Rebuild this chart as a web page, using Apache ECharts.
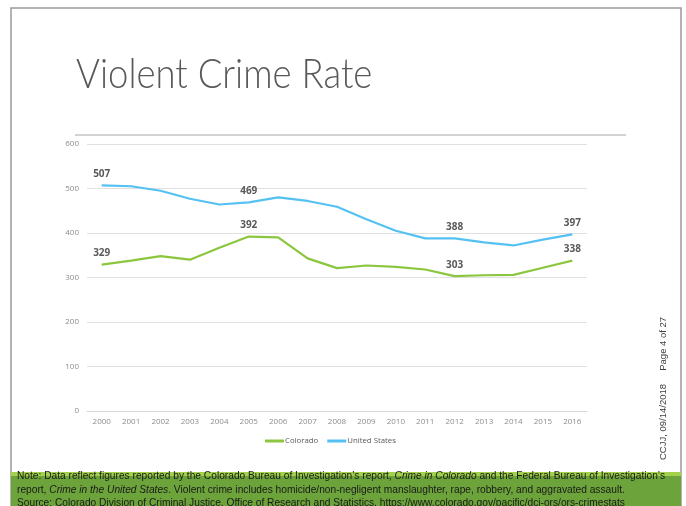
<!DOCTYPE html>
<html><head><meta charset="utf-8">
<script src="https://cdn.jsdelivr.net/npm/echarts@6/dist/echarts.min.js"></script>
<style>html,body{margin:0;padding:0;background:#fff}#c{width:686px;height:506px}</style>
</head><body><div id="c"></div>
<script>
const years = ['2000','2001','2002','2003','2004','2005','2006','2007','2008','2009','2010','2011','2012','2013','2014','2015','2016'];
const colorado = [329,338,348,340,367,392,390,343,321,327,324,318,303,305,306,322,338];
const unitedStates = [507,505,495,477,464,469,480,472,459,431,405,388,388,379,372,385,397];
const labeledYears = ['2000','2005','2012','2016'];
const yTicks = [0,100,200,300,400,500,600];

function withLabels(values){
  return values.map((v,i) => ({value:v, label:{show: labeledYears.includes(years[i])}}));
}

const chart = echarts.init(document.getElementById('c'), null, {renderer:'canvas'});
const lbl = {show:false, position:'top', distance:6, fontSize:10, fontWeight:'bold', color:'#595959', fontFamily:'Open Sans'};
chart.setOption({
  animation:false,
  grid:{left:87, right:99, top:144, bottom:95},
  xAxis:{type:'category', data:years, boundaryGap:true,
    axisLine:{lineStyle:{color:'#d9d9d9'}}, axisTick:{show:false},
    axisLabel:{fontSize:8, color:'#8c8c8c', fontFamily:'Open Sans', margin:7}},
  yAxis:{type:'value', min:yTicks[0], max:yTicks[yTicks.length-1], interval:100,
    axisLine:{show:false}, axisTick:{show:false},
    axisLabel:{fontSize:8, color:'#8c8c8c', fontFamily:'Open Sans', margin:8},
    splitLine:{lineStyle:{color:'#e0e0e0'}}},
  legend:{bottom:56, left:260, itemWidth:19, itemHeight:3, itemGap:9,
    textStyle:{fontSize:7.8, color:'#595959', fontFamily:'Open Sans', padding:[0,0,0,-4]},
    data:[{name:'Colorado', icon:'rect'},{name:'United States', icon:'rect'}]},
  series:[
    {name:'Colorado', type:'line', data:withLabels(colorado), symbol:'circle', symbolSize:0.01, showSymbol:true,
      lineStyle:{width:2.2, color:'#8cc63e'}, itemStyle:{color:'#8cc63e'}, label:lbl},
    {name:'United States', type:'line', data:withLabels(unitedStates), symbol:'circle', symbolSize:0.01, showSymbol:true,
      lineStyle:{width:2.2, color:'#55c1f2'}, itemStyle:{color:'#55c1f2'}, label:lbl}
  ],
  graphic:[
    {type:'rect', shape:{x:11,y:8,width:670,height:498}, style:{fill:'none', stroke:'#9a9a9a', lineWidth:1.5}, z:-10},
    {type:'text', x:76, y:54, scaleX:0.89, style:{text:'Violent Crime Rate', fontSize:41, fontWeight:300, fontFamily:'Lato', fill:'#595959'}},
    {type:'line', shape:{x1:75,y1:135,x2:626,y2:135}, style:{stroke:'#a6a6a6', lineWidth:1}},
    {type:'rect', shape:{x:11,y:472,width:670,height:4}, style:{fill:'#a3d14b'}},
    {type:'rect', shape:{x:11,y:476,width:670,height:30}, style:{fill:'#6ca33a'}},
    {type:'text', x:17, y:470, style:{
      text:'Note: Data reflect figures reported by the Colorado Bureau of Investigation’s report, {i|Crime in Colorado} and the Federal Bureau of Investigation’s\nreport, {i|Crime in the United States}. Violent crime includes homicide/non-negligent manslaughter, rape, robbery, and aggravated assault.\nSource: Colorado Division of Criminal Justice, Office of Research and Statistics, https://www.colorado.gov/pacific/dcj-ors/ors-crimestats',
      fontSize:10.2, lineHeight:13.3, fontFamily:'Liberation Sans', fill:'#1a1a1a',
      rich:{i:{fontStyle:'italic', fontSize:10.2, fontFamily:'Liberation Sans', fill:'#1a1a1a'}}}},
    {type:'text', x:663, y:460, rotation:Math.PI/2, style:{text:'CCJJ, 09/14/2018     Page 4 of 27', fontSize:9.5, fontFamily:'Liberation Sans', fill:'#404040', verticalAlign:'middle'}}
  ]
});
</script></body></html>
